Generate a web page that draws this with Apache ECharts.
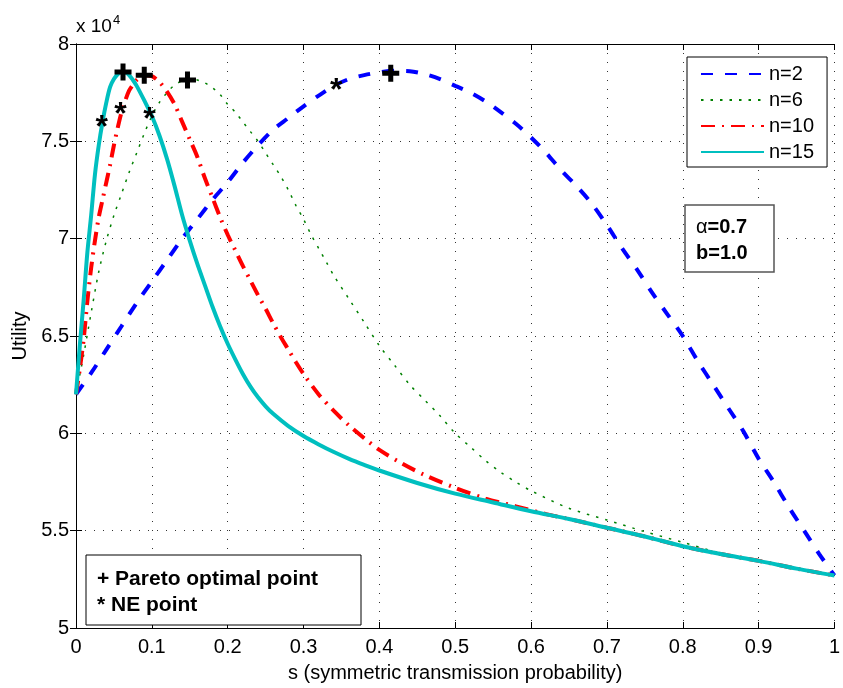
<!DOCTYPE html>
<html><head><meta charset="utf-8">
<script src="https://cdn.jsdelivr.net/npm/echarts@6/dist/echarts.min.js"></script>
<style>html,body{margin:0;padding:0;background:#fff}#c{width:843px;height:688px}</style>
</head><body><div id="c"></div>
<script>
// Utility values in units of 10^4
const s2 = [0,0.02,0.04,0.06,0.08,0.1,0.12,0.14,0.16,0.18,0.2,0.22,0.24,0.26,0.28,0.3,0.32,0.34,0.36,0.38,0.4,0.42,0.44,0.46,0.48,0.5,0.52,0.54,0.56,0.58,0.6,0.62,0.64,0.66,0.68,0.7,0.72,0.74,0.76,0.78,0.8,0.82,0.84,0.86,0.88,0.9,0.92,0.94,0.96,0.98,1];
const u2 = [6.2,6.31,6.43,6.55,6.67,6.78,6.89,7.0,7.1,7.2,7.29,7.39,7.48,7.56,7.62,7.68,7.735,7.785,7.82,7.84,7.855,7.862,7.86,7.845,7.82,7.785,7.75,7.705,7.65,7.59,7.52,7.44,7.35,7.27,7.18,7.07,6.95,6.84,6.72,6.61,6.5,6.37,6.25,6.13,6.01,5.87,5.75,5.62,5.5,5.38,5.27];

const s6 = [0,0.005,0.01,0.02,0.03,0.04,0.05,0.06,0.07,0.08,0.09,0.1,0.11,0.12,0.13,0.14,0.15,0.16,0.17,0.18,0.19,0.2,0.21,0.22,0.23,0.24,0.25,0.26,0.27,0.28,0.29,0.3,0.31,0.32,0.33,0.34,0.36,0.38,0.4,0.42,0.44,0.46,0.48,0.5,0.52,0.54,0.56,0.58,0.6,0.65,0.7,0.75,0.8,0.85,0.9,0.95,1];
const u6 = [6.2,6.3,6.4,6.62,6.83,6.99,7.12,7.23,7.34,7.44,7.54,7.63,7.7,7.75,7.79,7.81,7.82,7.815,7.8,7.775,7.74,7.69,7.65,7.6,7.55,7.5,7.44,7.38,7.32,7.25,7.17,7.1,7.02,6.95,6.88,6.81,6.69,6.57,6.45,6.35,6.25,6.17,6.09,6.0,5.93,5.86,5.8,5.75,5.705,5.615,5.555,5.495,5.44,5.385,5.345,5.305,5.27];

const s10 = [0,0.005,0.01,0.015,0.02,0.025,0.03,0.035,0.04,0.045,0.05,0.055,0.06,0.065,0.07,0.075,0.08,0.09,0.1,0.11,0.12,0.13,0.14,0.15,0.16,0.17,0.18,0.19,0.2,0.21,0.22,0.23,0.24,0.25,0.26,0.27,0.28,0.29,0.3,0.32,0.34,0.36,0.38,0.4,0.43,0.46,0.5,0.54,0.58,0.62,0.65,0.7,0.75,0.8,0.85,0.9,0.95,1];
const u10 = [6.2,6.33,6.48,6.68,6.85,6.99,7.11,7.2,7.29,7.38,7.48,7.57,7.65,7.71,7.76,7.79,7.815,7.84,7.835,7.805,7.755,7.69,7.6,7.51,7.42,7.31,7.21,7.11,7.02,6.94,6.86,6.785,6.71,6.64,6.565,6.495,6.43,6.365,6.305,6.2,6.115,6.04,5.975,5.915,5.845,5.785,5.72,5.665,5.625,5.585,5.56,5.515,5.47,5.42,5.38,5.345,5.305,5.27];

const s15 = [0,0.005,0.01,0.015,0.02,0.025,0.03,0.035,0.04,0.045,0.05,0.055,0.06,0.065,0.07,0.075,0.08,0.09,0.1,0.11,0.12,0.13,0.14,0.15,0.16,0.17,0.18,0.19,0.2,0.21,0.22,0.23,0.24,0.25,0.26,0.28,0.3,0.32,0.34,0.36,0.38,0.4,0.45,0.5,0.55,0.6,0.65,0.7,0.75,0.8,0.85,0.9,0.95,1];
const u15 = [6.2,6.45,6.68,6.93,7.12,7.33,7.48,7.6,7.7,7.78,7.82,7.845,7.856,7.855,7.84,7.815,7.785,7.71,7.63,7.53,7.41,7.27,7.12,6.99,6.87,6.76,6.65,6.55,6.46,6.38,6.305,6.24,6.185,6.139,6.1,6.037,5.986,5.943,5.904,5.869,5.838,5.809,5.745,5.69,5.645,5.6,5.56,5.515,5.47,5.42,5.38,5.345,5.305,5.27];

const paretoS = [0.062,0.09,0.147,0.415];
const paretoU = [7.856,7.84,7.815,7.85];
const neS = [0.034,0.0585,0.097,0.343];
const neU = [7.61,7.675,7.65,7.8];

const seriesNames = ['n=2','n=6','n=10','n=15'];
const xMin = 0, xMax = 1, xStep = 0.1;
const yMin = 5, yMax = 8, yStep = 0.5;

const FONT = 'Liberation Sans, Arial, Helvetica, sans-serif';
const zip = (a,b) => a.map((v,i)=>[v,b[i]]);

const chart = echarts.init(document.getElementById('c'), null, {renderer:'canvas'});

const gridDots = {show:true, lineStyle:{type:[1,8], color:'#333', width:1}};
const baseX = {type:'value', min:xMin, max:xMax, interval:xStep};
const baseY = {type:'value', min:yMin, max:yMax, interval:yStep};

const lineCommon = {type:'line', symbol:'none', showSymbol:false, smooth:0.3, animation:false, xAxisIndex:0, yAxisIndex:0};

chart.setOption({
  animation:false,
  grid:{left:76, right:3, top:44, bottom:57},
  xAxis:[
    Object.assign({}, baseX, {
      position:'bottom',
      name:'s (symmetric transmission probability)', nameLocation:'middle', nameGap:35,
      nameTextStyle:{fontFamily:FONT, fontSize:20, color:'#000'},
      axisLine:{lineStyle:{color:'#000', width:1}},
      axisTick:{inside:true, length:6, lineStyle:{color:'#000'}},
      axisLabel:{fontFamily:FONT, fontSize:20, color:'#000', margin:9},
      splitLine:gridDots
    }),
    Object.assign({}, baseX, {
      position:'top',
      axisLine:{lineStyle:{color:'#000', width:1}},
      axisTick:{inside:true, length:6, lineStyle:{color:'#000'}},
      axisLabel:{show:false}, splitLine:{show:false}
    })
  ],
  yAxis:[
    Object.assign({}, baseY, {
      position:'left',
      name:'Utility', nameLocation:'middle', nameGap:46, nameRotate:90,
      nameTextStyle:{fontFamily:FONT, fontSize:20, color:'#000'},
      axisLine:{show:true, lineStyle:{color:'#000', width:1}},
      axisTick:{show:true, inside:true, length:6, lineStyle:{color:'#000'}},
      axisLabel:{fontFamily:FONT, fontSize:20, color:'#000', margin:7},
      splitLine:gridDots
    }),
    Object.assign({}, baseY, {
      position:'right',
      axisLine:{show:true, lineStyle:{color:'#000', width:1}},
      axisTick:{show:true, inside:true, length:6, lineStyle:{color:'#000'}},
      axisLabel:{show:false}, splitLine:{show:false}
    })
  ],
  legend:{
    orient:'vertical', left:687, top:57,
    padding:[7,13,5,13], itemWidth:63, itemHeight:20, itemGap:6,
    borderColor:'#000', borderWidth:1, backgroundColor:'#fff',
    itemStyle:{opacity:0, borderWidth:0},
    textStyle:{fontFamily:FONT, fontSize:20, color:'#000'},
    data:seriesNames
  },
  series:[
    Object.assign({}, lineCommon, {name:seriesNames[0], data:zip(s2,u2), z:2,
      lineStyle:{color:'#0000ff', width:4, type:[12,12], cap:'butt'}, itemStyle:{color:'#0000ff'}}),
    Object.assign({}, lineCommon, {name:seriesNames[1], data:zip(s6,u6), z:3,
      lineStyle:{color:'#008000', width:1.5, type:[2.5,7], cap:'butt'}, itemStyle:{color:'#008000'}}),
    Object.assign({}, lineCommon, {name:seriesNames[2], data:zip(s10,u10), z:4,
      lineStyle:{color:'#ff0000', width:4, type:[14,7,2,7], cap:'butt'}, itemStyle:{color:'#ff0000'}}),
    Object.assign({}, lineCommon, {name:seriesNames[3], data:zip(s15,u15), z:5,
      lineStyle:{color:'#00bfbf', width:4}, itemStyle:{color:'#00bfbf'}}),
    {type:'scatter', name:'Pareto', data:zip(paretoS,paretoU), z:10, animation:false,
      symbol:'path://M6,0H11V6H17V11H11V17H6V11H0V6H6Z', symbolSize:17,
      itemStyle:{color:'#000', opacity:1}, silent:true},
    {type:'scatter', name:'NE', data:zip(neS,neU), z:10, animation:false,
      symbol:'circle', symbolSize:1, itemStyle:{color:'#fff', opacity:0}, silent:true,
      label:{show:true, position:'inside', formatter:'*', fontFamily:FONT, fontWeight:'bold', fontSize:32,
        color:'#000', opacity:1, textBorderWidth:0, textBorderColor:'transparent', offset:[0,8]}}
  ],
  graphic:[
    {type:'text', left:76, top:14, style:{
      text:'{n|x 10}{s|4}',
      rich:{n:{fontFamily:FONT, fontSize:19, color:'#000'}, s:{fontFamily:FONT, fontSize:13, color:'#000', padding:[0,0,12,1]}}
    }},
    {type:'rect', shape:{x:685, y:205, width:89, height:67}, style:{fill:'#fff', stroke:'#555', lineWidth:1.5}, z:20},
    {type:'text', x:696, y:214, z:21, style:{
      text:'{a|α}{b|=0.7}\n{b|b=1.0}',
      rich:{a:{fontFamily:FONT, fontSize:20, color:'#000', lineHeight:26}, b:{fontFamily:FONT, fontSize:20, fontWeight:'bold', color:'#000', lineHeight:26}}
    }},
    {type:'rect', shape:{x:86, y:555, width:275, height:70}, style:{fill:'#fff', stroke:'#000', lineWidth:1}, z:20},
    {type:'text', x:97, y:566, z:21, style:{
      text:'+ Pareto optimal point\n* NE point',
      fontFamily:FONT, fontSize:21, fontWeight:'bold', fill:'#000', lineHeight:26
    }}
  ]
});
</script></body></html>
